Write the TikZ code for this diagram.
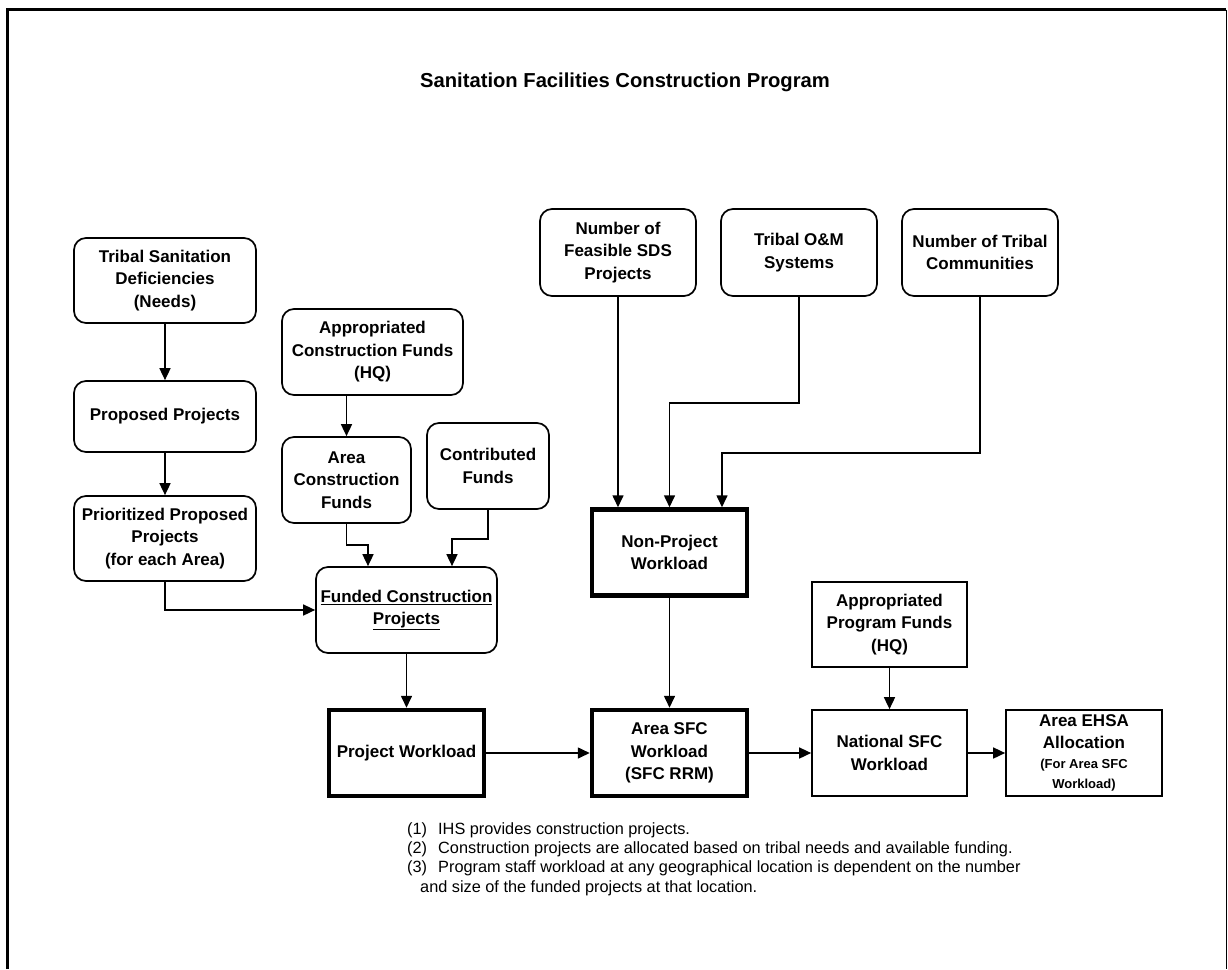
\documentclass[tikz,border=0pt]{standalone}
\usepackage{fontspec}
\setmainfont{Liberation Sans}
\usetikzlibrary{arrows.meta,calc}

\tikzset{
  boxtext/.style={align=center, inner sep=0pt,
    font=\bfseries\fontsize{17}{22.5}\selectfont},
  rbox/.style={boxtext, draw, line width=1.7pt, rounded corners=12pt},
  sbox/.style={boxtext, draw, line width=1.7pt},
  heavybox/.style={boxtext, draw, line width=4.5pt},
  flow/.style={line width=1.6pt, -{Triangle[length=12pt,width=11pt]}},
  note/.style={anchor=base west, inner sep=0pt, font=\fontsize{16.3}{19}\selectfont},
}

\begin{document}
\begin{tikzpicture}[x=1pt, y=-1pt]
  \useasboundingbox (0,0) rectangle (1228,969);

  % page frame (open at the bottom)
  \draw[line width=3pt] (7.5,969) -- (7.5,9.5) -- (1226,9.5);
  \draw[line width=1pt] (1226,9.5) -- (1226,969);

  % title
  \node[anchor=base, inner sep=0pt, font=\bfseries\fontsize{20.2}{24}\selectfont]
    (title) at (625,87) {Sanitation Facilities Construction Program};

  % construction-project chain
  \node[rbox, minimum width=182pt, minimum height=85pt] (tsd) at (165,280.5)
    {Tribal Sanitation\\Deficiencies\\(Needs)};
  \node[rbox, minimum width=182pt, minimum height=71pt] (pp) at (165,416.5)
    {Proposed Projects};
  \node[rbox, minimum width=182pt, minimum height=85pt] (ppp) at (165,538.5)
    {Prioritized Proposed\\Projects\\(for each Area)};
  \node[rbox, minimum width=181pt, minimum height=86pt] (acf) at (372.5,352)
    {Appropriated\\Construction Funds\\(HQ)};
  \node[rbox, minimum width=129pt, minimum height=86pt] (areacf) at (346.5,480)
    {Area\\Construction\\Funds};
  \node[rbox, minimum width=122pt, minimum height=86pt] (contrib) at (488,466)
    {Contributed\\Funds};
  \node[rbox, minimum width=181pt, minimum height=86pt] (fcp) at (406.5,610)
    {\underline{Funded Construction}\\\underline{Projects}};

  % non-project inputs
  \node[rbox, minimum width=156pt, minimum height=87pt] (feas) at (618,252.5)
    {Number of\\Feasible SDS\\Projects};
  \node[rbox, minimum width=156pt, minimum height=87pt] (om) at (799,252.5)
    {Tribal O\&M\\Systems};
  \node[rbox, minimum width=156pt, minimum height=87pt] (comm) at (980,252.5)
    {Number of Tribal\\Communities};

  % workload boxes
  \node[heavybox, minimum width=155pt, minimum height=86pt] (npw) at (669.5,552.5)
    {Non-Project\\Workload};
  \node[heavybox, minimum width=155pt, minimum height=86pt] (pw) at (406.5,753)
    {Project Workload};
  \node[heavybox, minimum width=155pt, minimum height=86pt] (asfc) at (669.5,753)
    {Area SFC\\Workload\\(SFC RRM)};

  % national level
  \node[sbox, minimum width=155pt, minimum height=85pt] (apf) at (889.5,624.5)
    {Appropriated\\Program Funds\\(HQ)};
  \node[sbox, minimum width=155pt, minimum height=86pt] (nsfc) at (889.5,753)
    {National SFC\\Workload};
  \node[sbox, minimum width=156pt, minimum height=86pt] (ehsa) at (1084,753)
    {Area EHSA\\[-1pt]Allocation\\[-2pt]{\fontsize{13}{16}\selectfont (For Area SFC}\\[-3pt]{\fontsize{13}{16}\selectfont Workload)}};

  % connectors
  \draw[flow] (tsd) -- (pp);
  \draw[flow] (pp) -- (ppp);
  \draw[flow] (ppp.south) |- (fcp.west);
  \draw[flow] (areacf.north |- acf.south) -- (areacf.north);
  \draw[flow] (areacf.south) -- ++(0,21) -| ([xshift=-38.5pt]fcp.north);
  \draw[flow] (contrib.south) -- ++(0,29) -| ([xshift=45.5pt]fcp.north);
  \draw[flow] (fcp) -- (pw);

  \draw[flow] (feas.south) -- (feas.south |- npw.north);
  \draw[flow] (om.south) -- ++(0,106) -| (npw.north);
  \draw[flow] (comm.south) -- ++(0,156) -| ([xshift=52.5pt]npw.north);
  \draw[flow] (npw) -- (asfc);

  \draw[flow] (pw) -- (asfc);
  \draw[flow] (asfc) -- (nsfc);
  \draw[flow] (apf) -- (nsfc);
  \draw[flow] (nsfc) -- (ehsa);

  % notes
  \node[note] (n1) at (407,834) {(1)};
  \node[note] (t1) at (438,834) {IHS provides construction projects.};
  \node[note] (n2) at (407,853.3) {(2)};
  \node[note] (t2) at (438,853.3) {Construction projects are allocated based on tribal needs and available funding.};
  \node[note] (n3) at (407,872.6) {(3)};
  \node[note] (t3) at (438,872.6) {Program staff workload at any geographical location is dependent on the number};
  \node[note] (t4) at (420,892) {and size of the funded projects at that location.};
\end{tikzpicture}
\end{document}
